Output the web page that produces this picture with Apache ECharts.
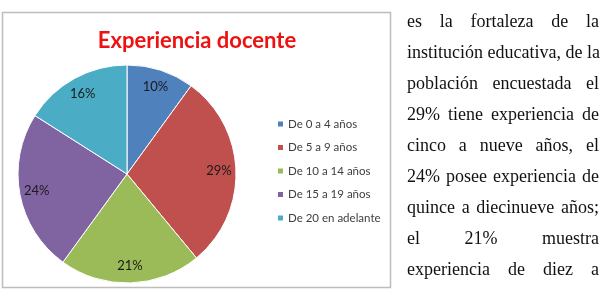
<!DOCTYPE html>
<html>
<head>
<meta charset="utf-8">
<script src="https://cdn.jsdelivr.net/npm/echarts@6/dist/echarts.min.js"></script>
<style>
  html, body { margin: 0; padding: 0; background: #fff; }
  #chart { position: absolute; left: 0; top: 0; width: 604px; height: 295px; }
  #texto { position: absolute; left: 407px; top: 5.5px; width: 192px;
    font-family: 'Liberation Serif', 'DejaVu Serif', serif; font-size: 18px; color: #111; }
  #texto div { height: 31px; line-height: 31px; text-align: justify; text-align-last: justify; white-space: nowrap; }
</style>
</head>
<body>
<div id="chart"></div>
<div id="texto"></div>
<script>
// datos del grafico
var categorias = ['De 0 a 4 años', 'De 5 a 9 años', 'De 10 a 14 años', 'De 15 a 19 años', 'De 20 en adelante']
var porcentajes = [10, 29, 21, 24, 16]
var colores = ['#4F81BD', '#C0504D', '#9BBB59', '#8064A2', '#4BACC6']

var lineas = [
  'es la fortaleza de la',
  'institución educativa, de la',
  'población encuestada el',
  '29% tiene experiencia de',
  'cinco a nueve años, el',
  '24% posee experiencia de',
  'quince a diecinueve años;',
  'el 21% muestra',
  'experiencia de diez a'
]

var texto = document.getElementById('texto')
for (var i in lineas) {
  var d = document.createElement('div')
  d.textContent = lineas[i]
  texto.appendChild(d)
}

function get_data (transparente) {
  var dt = []
  for (var i in categorias) {
    dt.push({
      name: categorias[i],
      value: porcentajes[i],
      itemStyle: { color: transparente ? 'rgba(0,0,0,0)' : colores[i] }
    })
  }
  return dt
}

var chart = echarts.init(document.getElementById('chart'))

var option = {
  animation: false,
  title: {
    text: 'Experiencia docente',
    left: 192,
    textAlign: 'center',
    top: 25,
    textStyle: { color: '#EE1111', fontSize: 22, fontWeight: 'bold', fontFamily: 'Lato' }
  },
  graphic: [{
    type: 'rect',
    shape: { x: 2.5, y: 12.5, width: 388, height: 275 },
    style: { fill: 'none', stroke: '#BDBDBD', lineWidth: 1.5 },
    silent: true
  }],
  legend: {
    orient: 'vertical',
    left: 276,
    top: 117,
    padding: 0,
    itemWidth: 7,
    itemHeight: 7,
    itemGap: 9.5,
    icon: 'rect',
    data: categorias.map(function (n, i) { return { name: n, itemStyle: { color: colores[i] } } }),
    textStyle: { color: '#404040', fontSize: 11.5, lineHeight: 14, fontFamily: 'Lato', padding: [0, 0, 0, -1] }
  },
  series: [
    {
      name: 'Experiencia docente',
      type: 'pie',
      center: [127, 174],
      radius: [0, 109],
      startAngle: 90,
      label: { show: false },
      labelLine: { show: false },
      itemStyle: { borderColor: '#fff', borderWidth: 1 },
      data: get_data(false)
    },
    {
      name: 'etiquetas',
      type: 'pie',
      center: [127, 174],
      radius: [70, 108],
      startAngle: 90,
      silent: true,
      label: {
        show: true,
        position: 'inside',
        formatter: '{c}%',
        color: '#1A1A1A',
        fontSize: 13,
        fontFamily: 'Lato'
      },
      labelLine: { show: false },
      data: get_data(true)
    }
  ]
}

chart.setOption(option)
</script>
</body>
</html>
